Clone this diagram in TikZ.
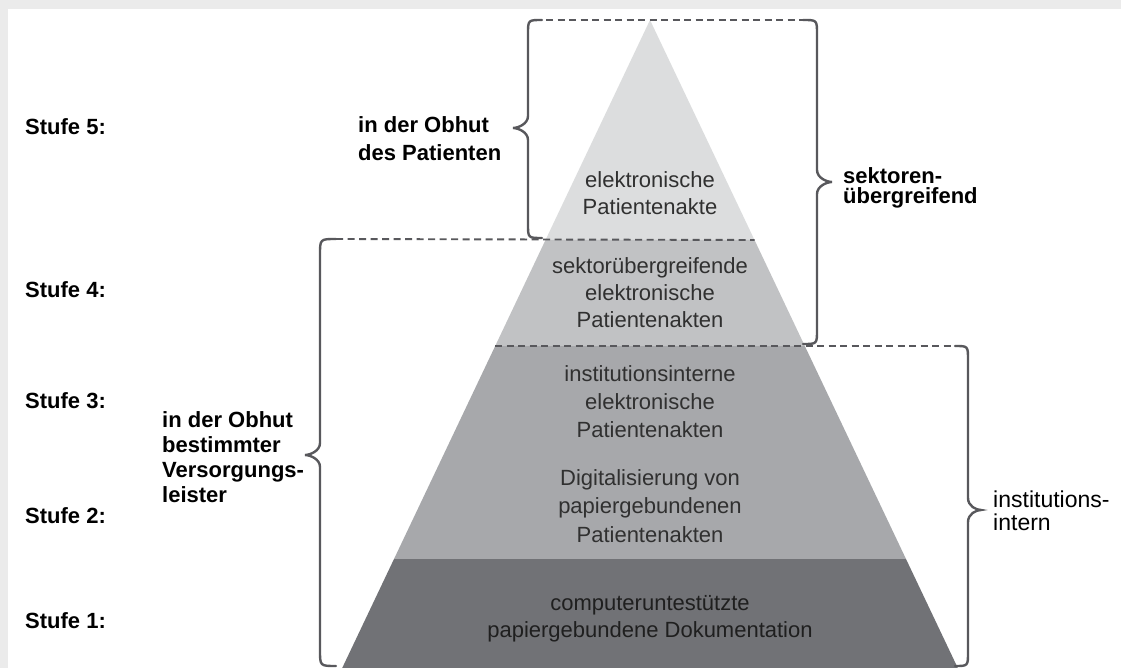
\documentclass[tikz,border=0pt]{standalone}
\usepackage{fontspec}
\setmainfont{Liberation Sans}
\definecolor{framegrey}{HTML}{EBEBEB}
\definecolor{tierfive}{HTML}{DCDDDE}
\definecolor{tierfour}{HTML}{C1C2C4}
\definecolor{tiermid}{HTML}{A7A8AB}
\definecolor{tierone}{HTML}{717276}
\definecolor{braceline}{HTML}{58585C}
\definecolor{pyrtext}{HTML}{303030}
\begin{document}
\begin{tikzpicture}[x=1pt,y=-1pt,
  bracestyle/.style={draw=braceline, line width=2.4pt, line cap=round},
  dashline/.style={draw=braceline, line width=1.9pt, dash pattern=on 7pt off 4.5pt},
  levellabel/.style={anchor=base west, inner sep=0pt, text=black,
    font=\fontsize{22}{26}\selectfont\bfseries},
  sidelabel/.style={anchor=base west, inner sep=0pt, align=left, text=black},
  pyrlabel/.style={anchor=base, inner sep=0pt, align=center, text=pyrtext}]
\useasboundingbox (0,0) rectangle (1121,668);
% page frame
\fill[framegrey] (0,0) rectangle (1121,668);
\fill[white] (8,9) rectangle (1121,668);

% pyramid outline points
\coordinate (apex) at (650,20);
\coordinate (l4) at (545.5,240); \coordinate (r4) at (754.5,240);
\coordinate (l3) at (495.2,346); \coordinate (r3) at (804.8,346);
\coordinate (l1) at (394,559);   \coordinate (r1) at (906,559);
\coordinate (lb) at (342.2,668); \coordinate (rb) at (957.8,668);

% pyramid tiers
\fill[tierfive] (apex) -- (r4) -- (l4) -- cycle;
\fill[tierfour] (l4) -- (r4) -- (r3) -- (l3) -- cycle;
\fill[tiermid]  (l3) -- (r3) -- (r1) -- (l1) -- cycle;
\fill[tierone]  (l1) -- (r1) -- (rb) -- (lb) -- cycle;

% dashed separators
\coordinate (d1a) at (546,20);    \coordinate (d1b) at (803,20);
\coordinate (d2a) at (336,239);
\coordinate (d3b) at (955,346);
\draw[dashline] (d1a) -- (d1b);
\draw[dashline] (d2a) -- (r4);
\draw[dashline] (l3) -- (d3b);

% brace: patient (tip left)
\draw[bracestyle] (542,20) .. controls (528,20) .. (528,34) -- (528,116)
  .. controls (528,124) and (518,128) .. (513,128)
  .. controls (518,128) and (528,132) .. (528,140) -- (528,224)
  .. controls (528,238) .. (542,238);
% brace: care providers (tip left)
\draw[bracestyle] (336,239) .. controls (320,239) .. (320,255) -- (320,443)
  .. controls (320,451) and (310,455) .. (305,455)
  .. controls (310,455) and (320,459) .. (320,467) -- (320,650)
  .. controls (320,666) .. (336,666);
% brace: cross-sector (tip right)
\draw[bracestyle] (803,20) .. controls (817,20) .. (817,34) -- (817,170)
  .. controls (817,178) and (827,182) .. (832,182)
  .. controls (827,182) and (817,186) .. (817,194) -- (817,330)
  .. controls (817,344) .. (803,344);
% brace: within institution (tip right)
\draw[bracestyle] (955,346) .. controls (968,346) .. (968,360) -- (968,498)
  .. controls (968,506) and (976,510) .. (981,510)
  .. controls (976,510) and (968,514) .. (968,522) -- (968,652)
  .. controls (968,666) .. (955,666);

% level labels
\node[levellabel] (s5) at (25,135) {Stufe 5:};
\node[levellabel] (s4) at (25,298) {Stufe 4:};
\node[levellabel] (s3) at (25,408) {Stufe 3:};
\node[levellabel] (s2) at (25,523) {Stufe 2:};
\node[levellabel] (s1) at (25,628) {Stufe 1:};

% brace labels (placed at the baseline of their last line)
\node[sidelabel, font=\fontsize{22}{28}\selectfont\bfseries] (patient) at (358,161)
  {in der Obhut\\des Patienten};
\node[sidelabel, font=\fontsize{22}{25}\selectfont\bfseries] (provider) at (162,502)
  {in der Obhut\\bestimmter\\Versorgungs-\\leister};
\node[sidelabel, font=\fontsize{22}{20}\selectfont\bfseries] (sector) at (843,204)
  {sektoren-\\übergreifend};
\node[sidelabel, font=\fontsize{23}{23}\selectfont] (intern) at (993,530)
  {institutions-\\intern};

% tier texts
\node[pyrlabel, font=\fontsize{22}{27}\selectfont] (t5) at (650,215)
  {elektronische\\Patientenakte};
\node[pyrlabel, font=\fontsize{22}{27}\selectfont] (t4) at (650,327)
  {sektorübergreifende\\elektronische\\Patientenakten};
\node[pyrlabel, font=\fontsize{22}{28}\selectfont] (t3) at (650,437)
  {institutionsinterne\\elektronische\\Patientenakten};
\node[pyrlabel, font=\fontsize{22}{28.5}\selectfont] (t2) at (650,542)
  {Digitalisierung von\\papiergebundenen\\Patientenakten};
\node[pyrlabel, font=\fontsize{22}{27}\selectfont, text=black!88] (t1) at (650,637)
  {computeruntestützte\\papiergebundene Dokumentation};
\end{tikzpicture}
\end{document}
